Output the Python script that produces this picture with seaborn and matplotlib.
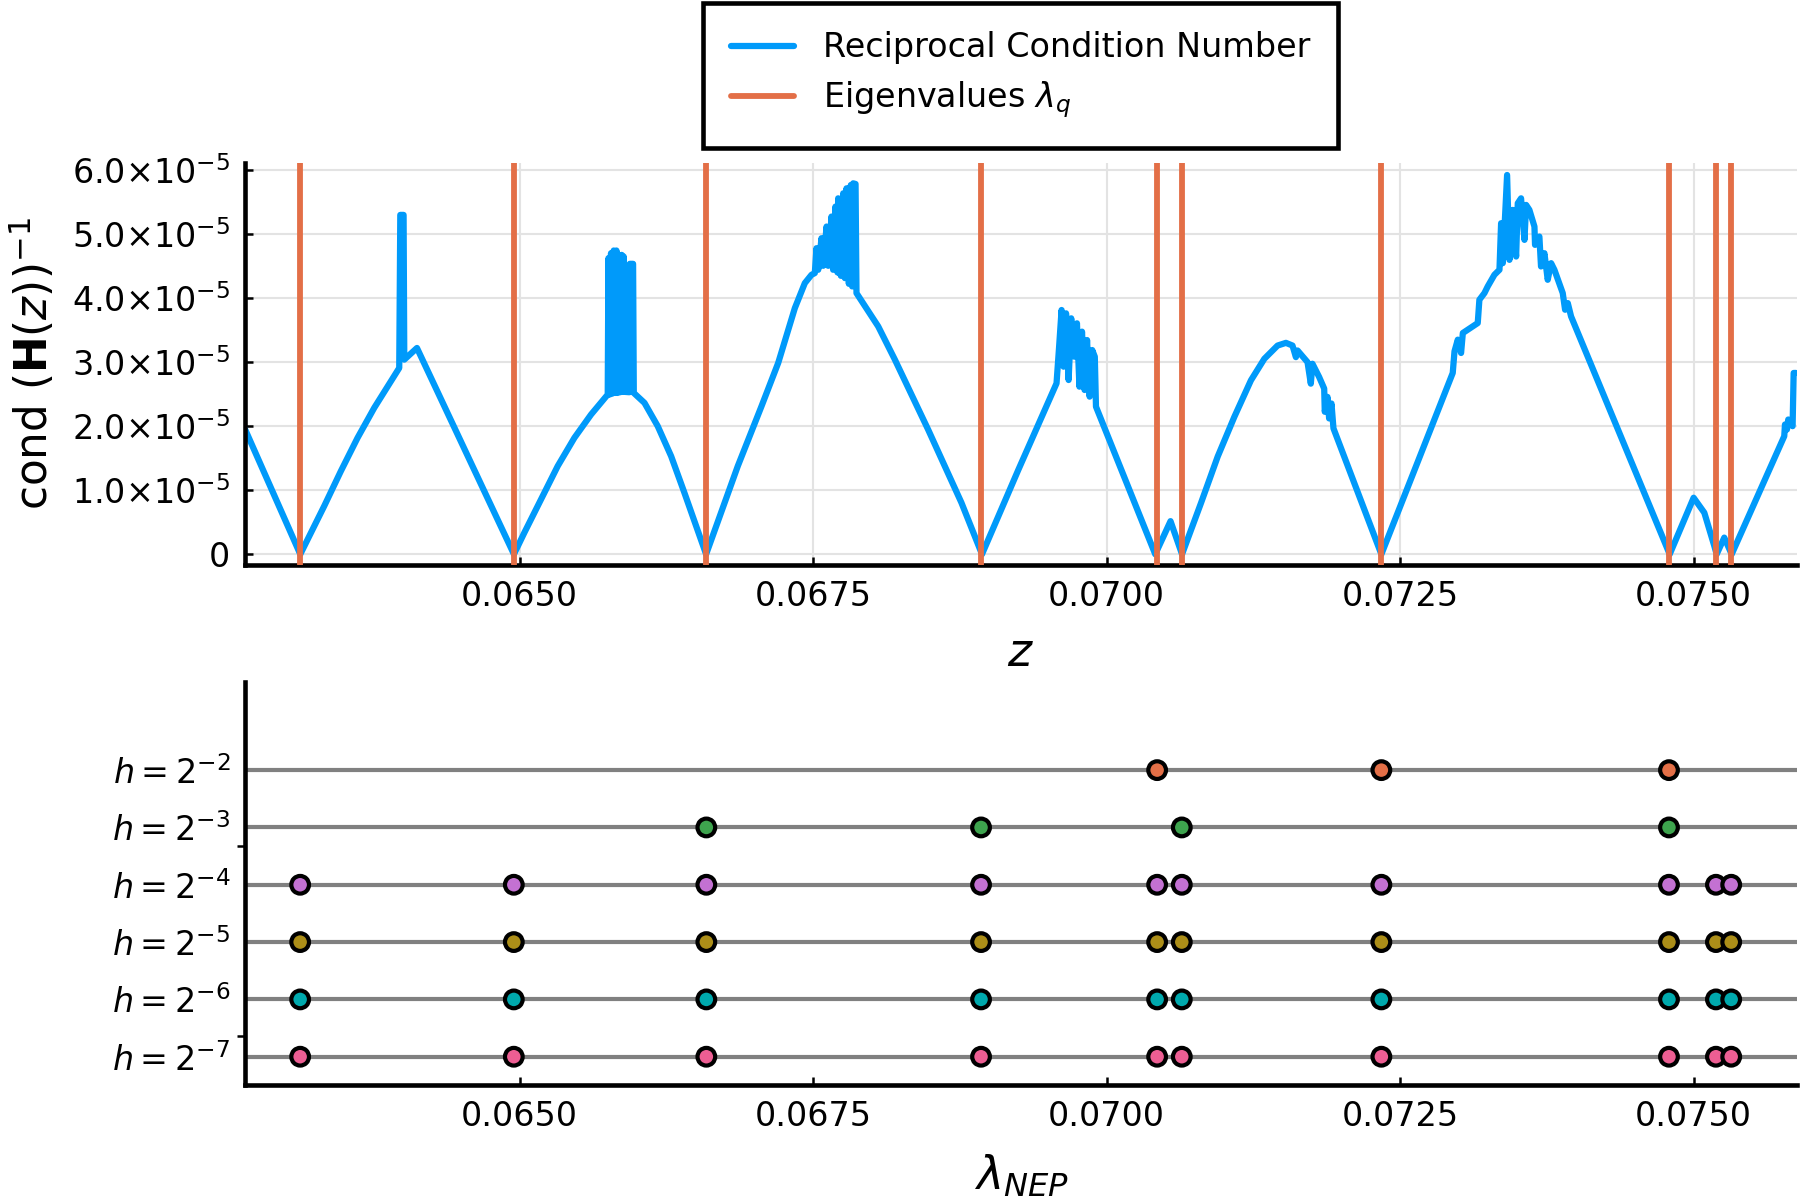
import numpy as np
import pandas as pd
import matplotlib
matplotlib.use('Agg')
import matplotlib.pyplot as plt
import seaborn as sns

# reciprocal condition number (values in units of 1e-5)
z_vals = [0.062657, 0.063131, 0.063335, 0.063477, 0.063619, 0.063761, 0.063903, 0.063974,
          0.063983, 0.064011, 0.064017, 0.064125, 0.064951, 0.065040, 0.065182, 0.065324,
          0.065466, 0.065608, 0.065750, 0.065756, 0.065767, 0.065778, 0.065790, 0.065801,
          0.065813, 0.065824, 0.065835, 0.065847, 0.065858, 0.065869, 0.065881, 0.065886,
          0.065898, 0.065935, 0.065938, 0.065966, 0.065972, 0.066063, 0.066176, 0.066290,
          0.066403, 0.066503, 0.066588, 0.066858, 0.067060, 0.067202, 0.067344, 0.067429,
          0.067486, 0.067514, 0.067528, 0.067543, 0.067571, 0.067585, 0.067614, 0.067628,
          0.067656, 0.067670, 0.067690, 0.067707, 0.067713, 0.067736, 0.067756, 0.067770,
          0.067784, 0.067804, 0.067821, 0.067832, 0.067841, 0.067861, 0.067869, 0.068054,
          0.068196, 0.068479, 0.068763, 0.068938, 0.069247, 0.069573, 0.069595, 0.069616,
          0.069633, 0.069654, 0.069676, 0.069698, 0.069725, 0.069747, 0.069768, 0.069790,
          0.069812, 0.069833, 0.069855, 0.069877, 0.069899, 0.069909, 0.070414, 0.070544,
          0.070642, 0.070804, 0.070946, 0.071088, 0.071229, 0.071343, 0.071456, 0.071527,
          0.071583, 0.071612, 0.071626, 0.071711, 0.071739, 0.071753, 0.071810, 0.071853,
          0.071858, 0.071881, 0.071895, 0.071915, 0.071932, 0.072340, 0.072948, 0.072963,
          0.072991, 0.073019, 0.073034, 0.073161, 0.073175, 0.073218, 0.073246, 0.073303,
          0.073346, 0.073360, 0.073374, 0.073411, 0.073431, 0.073459, 0.073488, 0.073502,
          0.073530, 0.073559, 0.073573, 0.073601, 0.073644, 0.073649, 0.073686, 0.073700,
          0.073729, 0.073757, 0.073786, 0.073814, 0.073885, 0.073905, 0.073928, 0.073956,
          0.074796, 0.075000, 0.075091, 0.075176, 0.075196, 0.075261, 0.075324, 0.075772,
          0.075778, 0.075795, 0.075806, 0.075843, 0.075852, 0.075872]
rcond_vals = [1.967, 0.0, 0.753, 1.299, 1.818, 2.286, 2.701, 2.909,
              5.299, 5.299, 3.039, 3.221, 0.0, 0.338, 0.857, 1.377,
              1.818, 2.182, 2.494, 4.623, 2.494, 4.701, 2.509, 4.743,
              2.519, 4.743, 2.519, 4.675, 2.530, 4.675, 2.535, 4.649,
              2.535, 2.530, 4.535, 4.535, 2.519, 2.364, 2.000, 1.532,
              0.961, 0.442, 0.0, 1.377, 2.312, 2.987, 3.844, 4.234,
              4.364, 4.390, 4.779, 4.442, 4.935, 4.504, 5.117, 4.504,
              5.273, 4.442, 5.429, 4.400, 5.558, 4.348, 5.636, 4.312,
              5.714, 4.223, 5.766, 4.182, 5.792, 5.782, 4.078, 3.558,
              3.039, 1.948, 0.805, 0.0, 1.316, 2.669, 3.241, 3.814,
              2.929, 3.762, 2.721, 3.684, 3.085, 3.606, 2.617, 3.476,
              2.565, 3.345, 2.461, 3.189, 3.085, 2.305, 0.0, 0.517,
              0.0, 0.802, 1.526, 2.147, 2.716, 3.052, 3.259, 3.301,
              3.259, 3.078, 3.182, 3.000, 2.664, 2.975, 2.768, 2.587,
              2.225, 2.457, 2.121, 2.354, 1.966, 0.0, 2.831, 3.169,
              3.351, 3.143, 3.455, 3.610, 3.974, 4.078, 4.182, 4.364,
              4.442, 5.169, 4.545, 5.922, 4.597, 5.377, 4.649, 5.481,
              5.558, 4.909, 5.455, 5.377, 5.117, 4.831, 4.961, 4.494,
              4.701, 4.286, 4.545, 4.442, 4.078, 3.818, 3.922, 3.714,
              0.0, 0.883, 0.649, 0.130, 0.0, 0.260, 0.0, 1.844,
              2.026, 1.948, 2.104, 2.000, 2.831, 2.831]

eigenvalues = [0.06313, 0.06495, 0.06659, 0.06893, 0.07043, 0.07064,
               0.07234, 0.07479, 0.07519, 0.07532]

# NEP eigenvalues per mesh size
nep_h2 = [0.07043, 0.07234, 0.07479]
nep_h3 = [0.06659, 0.06893, 0.07064, 0.07479]
nep_fine = [0.06313, 0.06495, 0.06659, 0.06893, 0.07043, 0.07064,
            0.07234, 0.07479, 0.07519, 0.07532]
nep_rows = [nep_h2, nep_h3, nep_fine, nep_fine, nep_fine, nep_fine]
row_labels = [r'$h = 2^{-2}$', r'$h = 2^{-3}$', r'$h = 2^{-4}$',
              r'$h = 2^{-5}$', r'$h = 2^{-6}$', r'$h = 2^{-7}$']
row_colors = ['#E36F47', '#3EA44E', '#C371D2', '#AC8E18', '#00A9AD', '#ED5E93']

xticks = [0.0650, 0.0675, 0.0700, 0.0725, 0.0750]
xtick_labels = ['0.0650', '0.0675', '0.0700', '0.0725', '0.0750']
yticks = [0, 1e-5, 2e-5, 3e-5, 4e-5, 5e-5, 6e-5]
ytick_labels = ['0', r'$1.0{\times}10^{-5}$', r'$2.0{\times}10^{-5}$', r'$3.0{\times}10^{-5}$',
                r'$4.0{\times}10^{-5}$', r'$5.0{\times}10^{-5}$', r'$6.0{\times}10^{-5}$']

sns.set_theme(style='ticks')
plt.rcParams['font.family'] = ['DejaVu Sans']
plt.rcParams['mathtext.fontset'] = 'dejavusans'
plt.rcParams['text.color'] = 'black'
plt.rcParams['axes.labelcolor'] = 'black'
plt.rcParams['xtick.color'] = 'black'
plt.rcParams['ytick.color'] = 'black'

BLUE = '#009AFA'
RED = '#E36F47'
FS = 16

fig = plt.figure(figsize=(12, 8), dpi=150)

# ---- top panel
ax1 = fig.add_axes([0.1361, 0.5292, 0.8622, 0.335])
df_curve = pd.DataFrame({'z': z_vals, 'rcond': np.array(rcond_vals) * 1e-5})
sns.lineplot(data=df_curve, x='z', y='rcond', ax=ax1, color=BLUE, lw=3.0,
             sort=False, estimator=None, label='Reciprocal Condition Number', zorder=2)
for i, e in enumerate(eigenvalues):
    ax1.axvline(e, color=RED, lw=2.8, zorder=3,
                label=r'Eigenvalues $\lambda_q$' if i == 0 else '_nolegend_')

ax1.set_xlim(0.06266, 0.07588)
ax1.set_ylim(-1.67e-6, 6.11e-5)
ax1.set_xticks(xticks)
ax1.set_xticklabels(xtick_labels)
ax1.set_yticks(yticks)
ax1.set_yticklabels(ytick_labels)
ax1.grid(True, color='#e3e3e3', lw=1.0)
ax1.set_axisbelow(True)
ax1.set_xlabel(r'$z$', fontsize=22, labelpad=9)
ax1.set_ylabel(r'cond $(\mathbf{H}(z))^{-1}$', fontsize=21)
ax1.yaxis.set_label_coords(-0.121, 0.5)

handles, labels = ax1.get_legend_handles_labels()
ax1.get_legend().remove()
leg = fig.legend(handles, labels, loc='upper center', bbox_to_anchor=(0.567, 0.9975),
                 fontsize=FS, frameon=True, fancybox=False, framealpha=1,
                 edgecolor='black', borderpad=0.85, labelspacing=0.45,
                 handlelength=1.9, handletextpad=0.85, borderaxespad=0)
leg.get_frame().set_linewidth(2.2)

# ---- bottom panel
ax2 = fig.add_axes([0.1361, 0.0958, 0.8622, 0.3358])
row_y = [6, 5, 4, 3, 2, 1]
frames = []
for vals, lab, y in zip(nep_rows, row_labels, row_y):
    frames.append(pd.DataFrame({'lam': vals, 'y': y, 'row': lab}))
    ax2.axhline(y, color='#808080', lw=2.0, zorder=1)
df_dots = pd.concat(frames, ignore_index=True)
sns.scatterplot(data=df_dots, x='lam', y='y', hue='row', palette=row_colors,
                hue_order=row_labels, s=72, edgecolor='black', linewidth=2.0,
                legend=False, zorder=3, ax=ax2)

ax2.set_xlim(0.06266, 0.07588)
ax2.set_ylim(0.506, 7.536)
ax2.set_xticks(xticks)
ax2.set_xticklabels(xtick_labels)
ax2.set_yticks(row_y)
ax2.set_yticklabels(row_labels)
ax2.set_yticks([1.36, 4.68], minor=True)
ax2.tick_params(axis='y', which='minor', direction='out', length=4, width=1.2, color='black')
ax2.set_xlabel(r'$\lambda_{NEP}$', fontsize=22, labelpad=10)
ax2.set_ylabel('')

for ax in (ax1, ax2):
    for side in ('top', 'right'):
        ax.spines[side].set_visible(False)
    for side in ('left', 'bottom'):
        ax.spines[side].set_linewidth(2.2)
        ax.spines[side].set_color('black')
    ax.tick_params(axis='both', which='major', direction='in', length=4, width=1.2,
                   labelsize=FS, pad=7, color='black')

fig.savefig('out.png', dpi=150)
